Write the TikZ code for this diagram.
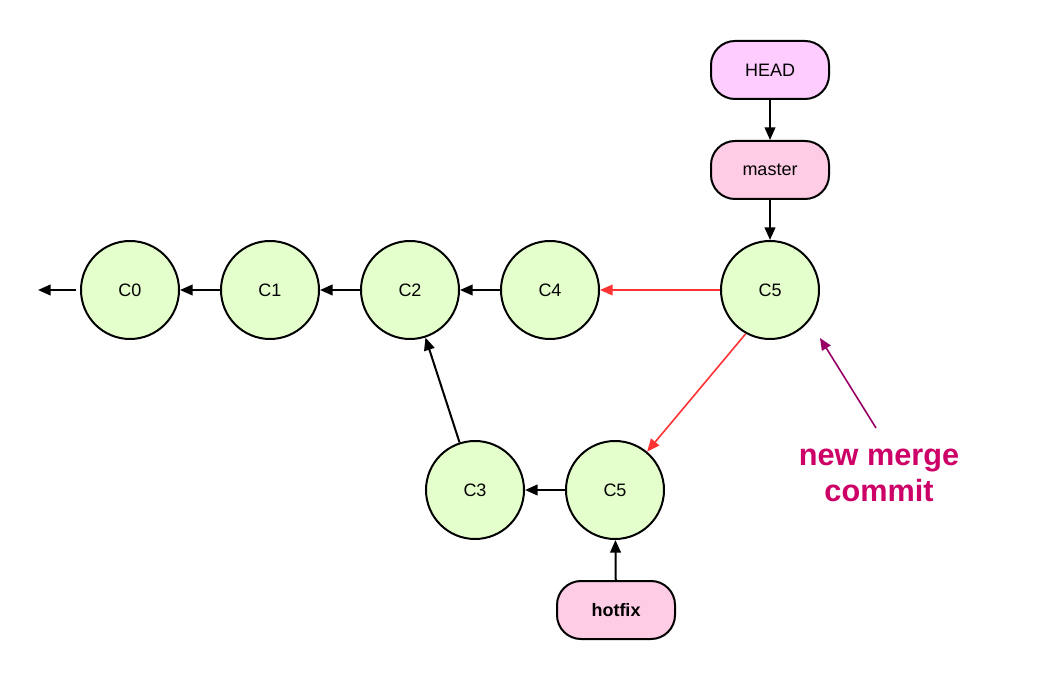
\documentclass[tikz,border=0pt]{standalone}
\usepackage{fontspec}
\setmainfont{Liberation Sans}
\usetikzlibrary{arrows.meta}
\definecolor{cfill}{HTML}{E5FFCC}
\definecolor{headfill}{HTML}{FFCCFF}
\definecolor{brfill}{HTML}{FFCCE5}
\definecolor{redl}{HTML}{FF3333}
\definecolor{purp}{HTML}{990066}
\definecolor{txtpink}{HTML}{CC0066}
\begin{document}
\begin{tikzpicture}[x=0.75pt,y=-0.75pt,
  commit/.style={circle,draw,line width=1.5pt,fill=cfill,minimum size=73.5pt,inner sep=0pt,font=\fontsize{13.5}{16}\selectfont},
  refbox/.style={draw,line width=1.5pt,rounded corners=18pt,minimum width=88.5pt,minimum height=43.5pt,inner sep=0pt,font=\fontsize{13.5}{16}\selectfont},
  arr/.style={line width=1.5pt,-{Triangle[length=9.5pt,width=8pt]}},
  redarr/.style={line width=1.2pt,draw=redl,-{Triangle[length=9.5pt,width=8pt]}},
  purparr/.style={line width=1.2pt,draw=purp,-{Triangle[length=9pt,width=7.5pt]}}
]
\useasboundingbox (0,0) rectangle (1060,680);
\node[commit] (C0) at (130,290) {C0};
\node[commit] (C1) at (270,290) {C1};
\node[commit] (C2) at (410,290) {C2};
\node[commit] (C4) at (550,290) {C4};
\node[commit] (C5) at (770,290) {C5};
\node[commit] (C3) at (475,490) {C3};
\node[commit] (C5b) at (615,490) {C5};
\node[refbox,fill=headfill] (HEAD) at (770,70) {HEAD};
\node[refbox,fill=brfill] (master) at (770,170) {master};
\node[refbox,fill=brfill,font=\bfseries\fontsize{13.5}{16}\selectfont] (hotfix) at (616,610) {hotfix};
\node[align=center,text=txtpink,font=\bfseries\fontsize{23}{27}\selectfont] (note) at (879,475) {new merge\\commit};
\coordinate (tail) at (76,290);
\coordinate (tip) at (38,290);
\coordinate (pa) at (876,428);
\coordinate (pb) at (820,338);
\draw[arr] (tail) -- (tip);
\draw[arr] (C1) -- (C0);
\draw[arr] (C2) -- (C1);
\draw[arr] (C4) -- (C2);
\draw[arr] (C3) -- (C2);
\draw[arr] (C5b) -- (C3);
\draw[arr] (hotfix) -- (C5b);
\draw[arr] (HEAD) -- (master);
\draw[arr] (master) -- (C5);
\draw[redarr] (C5) -- (C4);
\draw[redarr] (C5.241) -- (C5b);
\draw[purparr] (pa) -- (pb);
\end{tikzpicture}
\end{document}
